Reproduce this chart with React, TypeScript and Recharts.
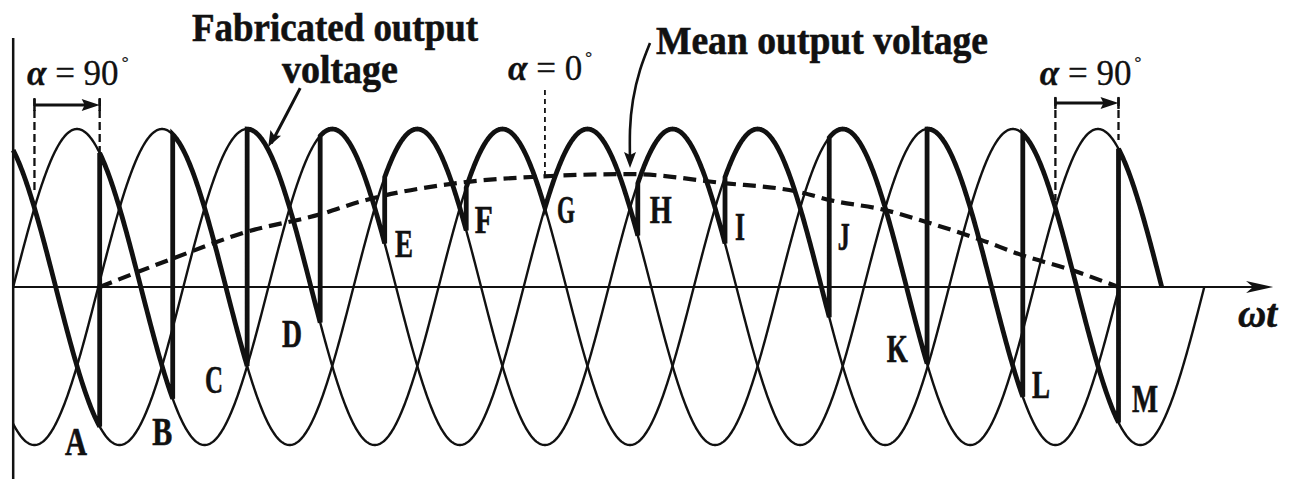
import React from 'react';
import { LineChart, Line, XAxis, YAxis, ReferenceLine, ReferenceDot } from 'recharts';

// Three-phase supply (per-unit peak), phase lag of each phase in degrees of ωt,
// and the ωt where each supply trace stops
const PHASE_LAG_DEG = [0, 120, 240];
const PHASE_END_DEG = [1620, 1560, 1680];
const PEAK = 1;

// Firing instants (ωt, degrees) of the positive group, points A … M
const FIRING_LABELS = ['A', 'B', 'C', 'D', 'E', 'F', 'G', 'H', 'I', 'J', 'K', 'L', 'M'];
const FIRING_DEG = [122, 225, 330, 433, 524, 639, 750, 881, 1004, 1151, 1289, 1424, 1559];
const START_PHASE = 2; // phase conducting before A
const OUTPUT_END_DEG = 1620;

// Mean output voltage (per unit)
const MEAN_DEG = [122, 225, 330, 433, 489, 630, 747, 870, 997, 1110, 1152, 1227, 1289, 1364, 1424, 1491, 1559];
const MEAN_VALUE = [0, 0.18, 0.35, 0.46, 0.54, 0.66, 0.7, 0.715, 0.66, 0.6, 0.55, 0.49, 0.41, 0.3, 0.2, 0.11, 0];

// Firing-angle markers: natural commutation instant → firing instant
const ALPHA_TEXT = ['90', '0', '90'];
const ALPHA_FROM_DEG = [30, 750, 1470];
const ALPHA_TO_DEG = [122, 750, 1559];

// ---- layout (data coordinates of the annotations) ----
const X_DOMAIN: [number, number] = [-18.6, 1802.3];
const Y_DOMAIN: [number, number] = [-1.215, 1.8165];
const LETTER_SPOTS = [
  { t: 73, v: -1.063, w: 22 },
  { t: 196, v: -1.0, w: 20 },
  { t: 270.5, v: -0.671, w: 18 },
  { t: 379, v: -0.38, w: 20 },
  { t: 538.5, v: 0.19, w: 18 },
  { t: 651, v: 0.342, w: 18 },
  { t: 767, v: 0.405, w: 18 },
  { t: 898, v: 0.405, w: 22 },
  { t: 1018, v: 0.297, w: 10 },
  { t: 1163, v: 0.234, w: 12 },
  { t: 1232, v: -0.475, w: 21 },
  { t: 1437, v: -0.703, w: 18 },
  { t: 1578, v: -0.791, w: 26 },
];
const ALPHA_LABEL_SPOTS = [
  { t: 19.5, v: 1.2785 },
  { t: 698, v: 1.31 },
  { t: 1448, v: 1.2785 },
];
const ALPHA_ARROW_V = [1.152, 0, 1.165];
const ALPHA_GUIDE_TOP = [1.196, 1.247, 1.196];
const ALPHA_GUIDE_FROM_BOTTOM = [0.614, 0.696, 0.55];
const ALPHA_GUIDE_TO_BOTTOM = [0.835, 0.696, 0.93];

const FAB_ARROW = [
  { t: 404.8, v: 1.259 },
  { t: 386.5, v: 1.101 },
  { t: 364, v: 0.91 },
];
const MEAN_ARROW = [
  { t: 898.2, v: 1.544 },
  { t: 884.1, v: 1.373 },
  { t: 874.2, v: 1.184 },
  { t: 870, v: 0.994 },
  { t: 870, v: 0.79 },
];

const INK = '#111';
const SERIF = "'Liberation Serif', 'Times New Roman', serif";

const phaseValue = (p: number, t: number) => PEAK * Math.sin(((t - PHASE_LAG_DEG[p]) * Math.PI) / 180);

const sample = (p: number, from: number, to: number) => {
  const out: { t: number; v: number }[] = [];
  for (let t = from; t < to; t += 1) out.push({ t, v: phaseValue(p, t) });
  out.push({ t: to, v: phaseValue(p, to) });
  return out;
};

const supplyTraces = PHASE_LAG_DEG.map((_, p) => sample(p, 0, PHASE_END_DEG[p]));

const outputTrace = (() => {
  const pts: { t: number; v: number }[] = [];
  let cur = START_PHASE;
  let from = 0;
  FIRING_DEG.forEach((f, k) => {
    pts.push(...sample(cur, from, f));
    cur = k % 3;
    pts.push({ t: f, v: phaseValue(cur, f) });
    from = f;
  });
  pts.push(...sample(cur, from, OUTPUT_END_DEG));
  return pts;
})();

const meanTrace = MEAN_DEG.map((t, i) => ({ t, v: MEAN_VALUE[i] }));

const arrowHead = (angle: number, len: number, half: number, notch = 0) => (p: any) => (
  <path
    transform={`translate(${p.cx},${p.cy}) rotate(${angle})`}
    d={`M0,0 L${-len},${-half} L${-len + notch},0 L${-len},${half} Z`}
    fill={INK}
    stroke="none"
  />
);

const tick = (half: number) => (p: any) => (
  <line x1={p.cx} y1={p.cy - half} x2={p.cx} y2={p.cy + half} stroke={INK} strokeWidth={2.5} />
);

const boldText = { fontFamily: SERIF, fontWeight: 'bold' as const, fill: INK, stroke: INK, strokeWidth: 0.6 };

const App = () => (
  <div style={{ position: 'absolute', left: 0, top: 0, width: 1291, height: 479, background: '#fff', overflow: 'hidden' }}>
    <LineChart width={1291} height={479} margin={{ top: 0, right: 0, bottom: 0, left: 0 }}>
      <XAxis type="number" dataKey="t" domain={X_DOMAIN} allowDataOverflow hide />
      <YAxis type="number" domain={Y_DOMAIN} allowDataOverflow hide />

      {/* axes */}
      <ReferenceLine segment={[{ x: 0, y: Y_DOMAIN[0] }, { x: 0, y: 1.576 }]} stroke={INK} strokeWidth={2.5} ifOverflow="visible" />
      <ReferenceLine segment={[{ x: 0, y: 0 }, { x: 1765, y: 0 }]} stroke={INK} strokeWidth={2.2} ifOverflow="visible" />
      <ReferenceDot x={1777} y={0} r={0} ifOverflow="visible" shape={arrowHead(0, 27, 6, 7)} />

      {/* supply phase voltages */}
      {supplyTraces.map((d, p) => (
        <Line key={`ph${p}`} data={d} dataKey="v" type="linear" stroke={INK} strokeWidth={2.4} dot={false} activeDot={false} isAnimationActive={false} />
      ))}

      {/* mean output voltage */}
      <Line data={meanTrace} dataKey="v" type="monotone" stroke={INK} strokeWidth={4.2} strokeDasharray="13 7" dot={false} activeDot={false} isAnimationActive={false} />

      {/* fabricated output voltage */}
      <Line data={outputTrace} dataKey="v" type="linear" stroke={INK} strokeWidth={4.8} strokeLinejoin="miter" dot={false} activeDot={false} isAnimationActive={false} />

      {/* firing-angle markers */}
      {ALPHA_FROM_DEG.map((from, i) => {
        const to = ALPHA_TO_DEG[i];
        const els: React.ReactNode[] = [];
        if (to !== from) {
          els.push(
            <ReferenceLine key={`ga${i}`} segment={[{ x: from, y: ALPHA_GUIDE_TOP[i] }, { x: from, y: ALPHA_GUIDE_FROM_BOTTOM[i] }]} stroke={INK} strokeWidth={2.3} strokeDasharray="8 4" ifOverflow="visible" />,
            <ReferenceLine key={`gb${i}`} segment={[{ x: to, y: ALPHA_GUIDE_TOP[i] }, { x: to, y: ALPHA_GUIDE_TO_BOTTOM[i] }]} stroke={INK} strokeWidth={2.3} strokeDasharray="8 4" ifOverflow="visible" />,
            <ReferenceLine key={`ar${i}`} segment={[{ x: from, y: ALPHA_ARROW_V[i] }, { x: to - 10, y: ALPHA_ARROW_V[i] }]} stroke={INK} strokeWidth={3} ifOverflow="visible" />,
            <ReferenceDot key={`ah${i}`} x={to} y={ALPHA_ARROW_V[i]} r={0} ifOverflow="visible" shape={arrowHead(0, 18, 6, 3)} />,
            <ReferenceDot key={`t1${i}`} x={from} y={ALPHA_ARROW_V[i]} r={0} ifOverflow="visible" shape={tick(6)} />,
            <ReferenceDot key={`t2${i}`} x={to} y={ALPHA_ARROW_V[i]} r={0} ifOverflow="visible" shape={tick(6)} />
          );
        } else {
          els.push(
            <ReferenceLine key={`g0${i}`} segment={[{ x: from, y: ALPHA_GUIDE_TOP[i] }, { x: from, y: ALPHA_GUIDE_FROM_BOTTOM[i] }]} stroke={INK} strokeWidth={1.8} strokeDasharray="5 4" ifOverflow="visible" />
          );
        }
        const spot = ALPHA_LABEL_SPOTS[i];
        els.push(
          <ReferenceDot
            key={`al${i}`}
            x={spot.t}
            y={spot.v}
            r={0}
            ifOverflow="visible"
            shape={(p: any) => (
              <text x={p.cx} y={p.cy} fontFamily={SERIF} fontSize={35} fill={INK} stroke={INK} strokeWidth={0.3}>
                <tspan fontStyle="italic" fontWeight="bold">α</tspan>
                <tspan>{` = ${ALPHA_TEXT[i]}`}</tspan>
                <tspan fontSize={17} dx={3} dy={-17}>°</tspan>
              </text>
            )}
          />
        );
        return els;
      })}

      {/* point labels A … M */}
      {FIRING_LABELS.map((lab, i) => (
        <ReferenceDot
          key={`lab${lab}`}
          x={LETTER_SPOTS[i].t}
          y={LETTER_SPOTS[i].v}
          r={0}
          ifOverflow="visible"
          shape={(p: any) => (
            <text x={p.cx} y={p.cy} {...boldText} fontSize={39} textLength={LETTER_SPOTS[i].w} lengthAdjust="spacingAndGlyphs">
              {lab}
            </text>
          )}
        />
      ))}

      {/* callouts */}
      <Line data={FAB_ARROW} dataKey="v" type="natural" stroke={INK} strokeWidth={3} dot={false} activeDot={false} isAnimationActive={false} />
      <ReferenceDot x={359.7} y={0.886} r={0} ifOverflow="visible" shape={arrowHead(118, 16, 6, 3)} />
      <Line data={MEAN_ARROW} dataKey="v" type="natural" stroke={INK} strokeWidth={2.6} dot={false} activeDot={false} isAnimationActive={false} />
      <ReferenceDot x={870} y={0.753} r={0} ifOverflow="visible" shape={arrowHead(90, 16, 6, 3)} />

      <ReferenceDot x={252.2} y={1.557} r={0} ifOverflow="visible" shape={(p: any) => (
        <text x={p.cx} y={p.cy} {...boldText} fontSize={40} textLength={286} lengthAdjust="spacingAndGlyphs">Fabricated output</text>
      )} />
      <ReferenceDot x={379.1} y={1.291} r={0} ifOverflow="visible" shape={(p: any) => (
        <text x={p.cx} y={p.cy} {...boldText} fontSize={40} textLength={116} lengthAdjust="spacingAndGlyphs">voltage</text>
      )} />
      <ReferenceDot x={906.6} y={1.475} r={0} ifOverflow="visible" shape={(p: any) => (
        <text x={p.cx} y={p.cy} {...boldText} fontSize={40} textLength={332} lengthAdjust="spacingAndGlyphs">Mean output voltage</text>
      )} />
      <ReferenceDot x={1727.6} y={-0.253} r={0} ifOverflow="visible" shape={(p: any) => (
        <text x={p.cx} y={p.cy} {...boldText} fontStyle="italic" fontSize={40} textLength={39} lengthAdjust="spacingAndGlyphs">ωt</text>
      )} />
    </LineChart>
  </div>
);

export default App;
